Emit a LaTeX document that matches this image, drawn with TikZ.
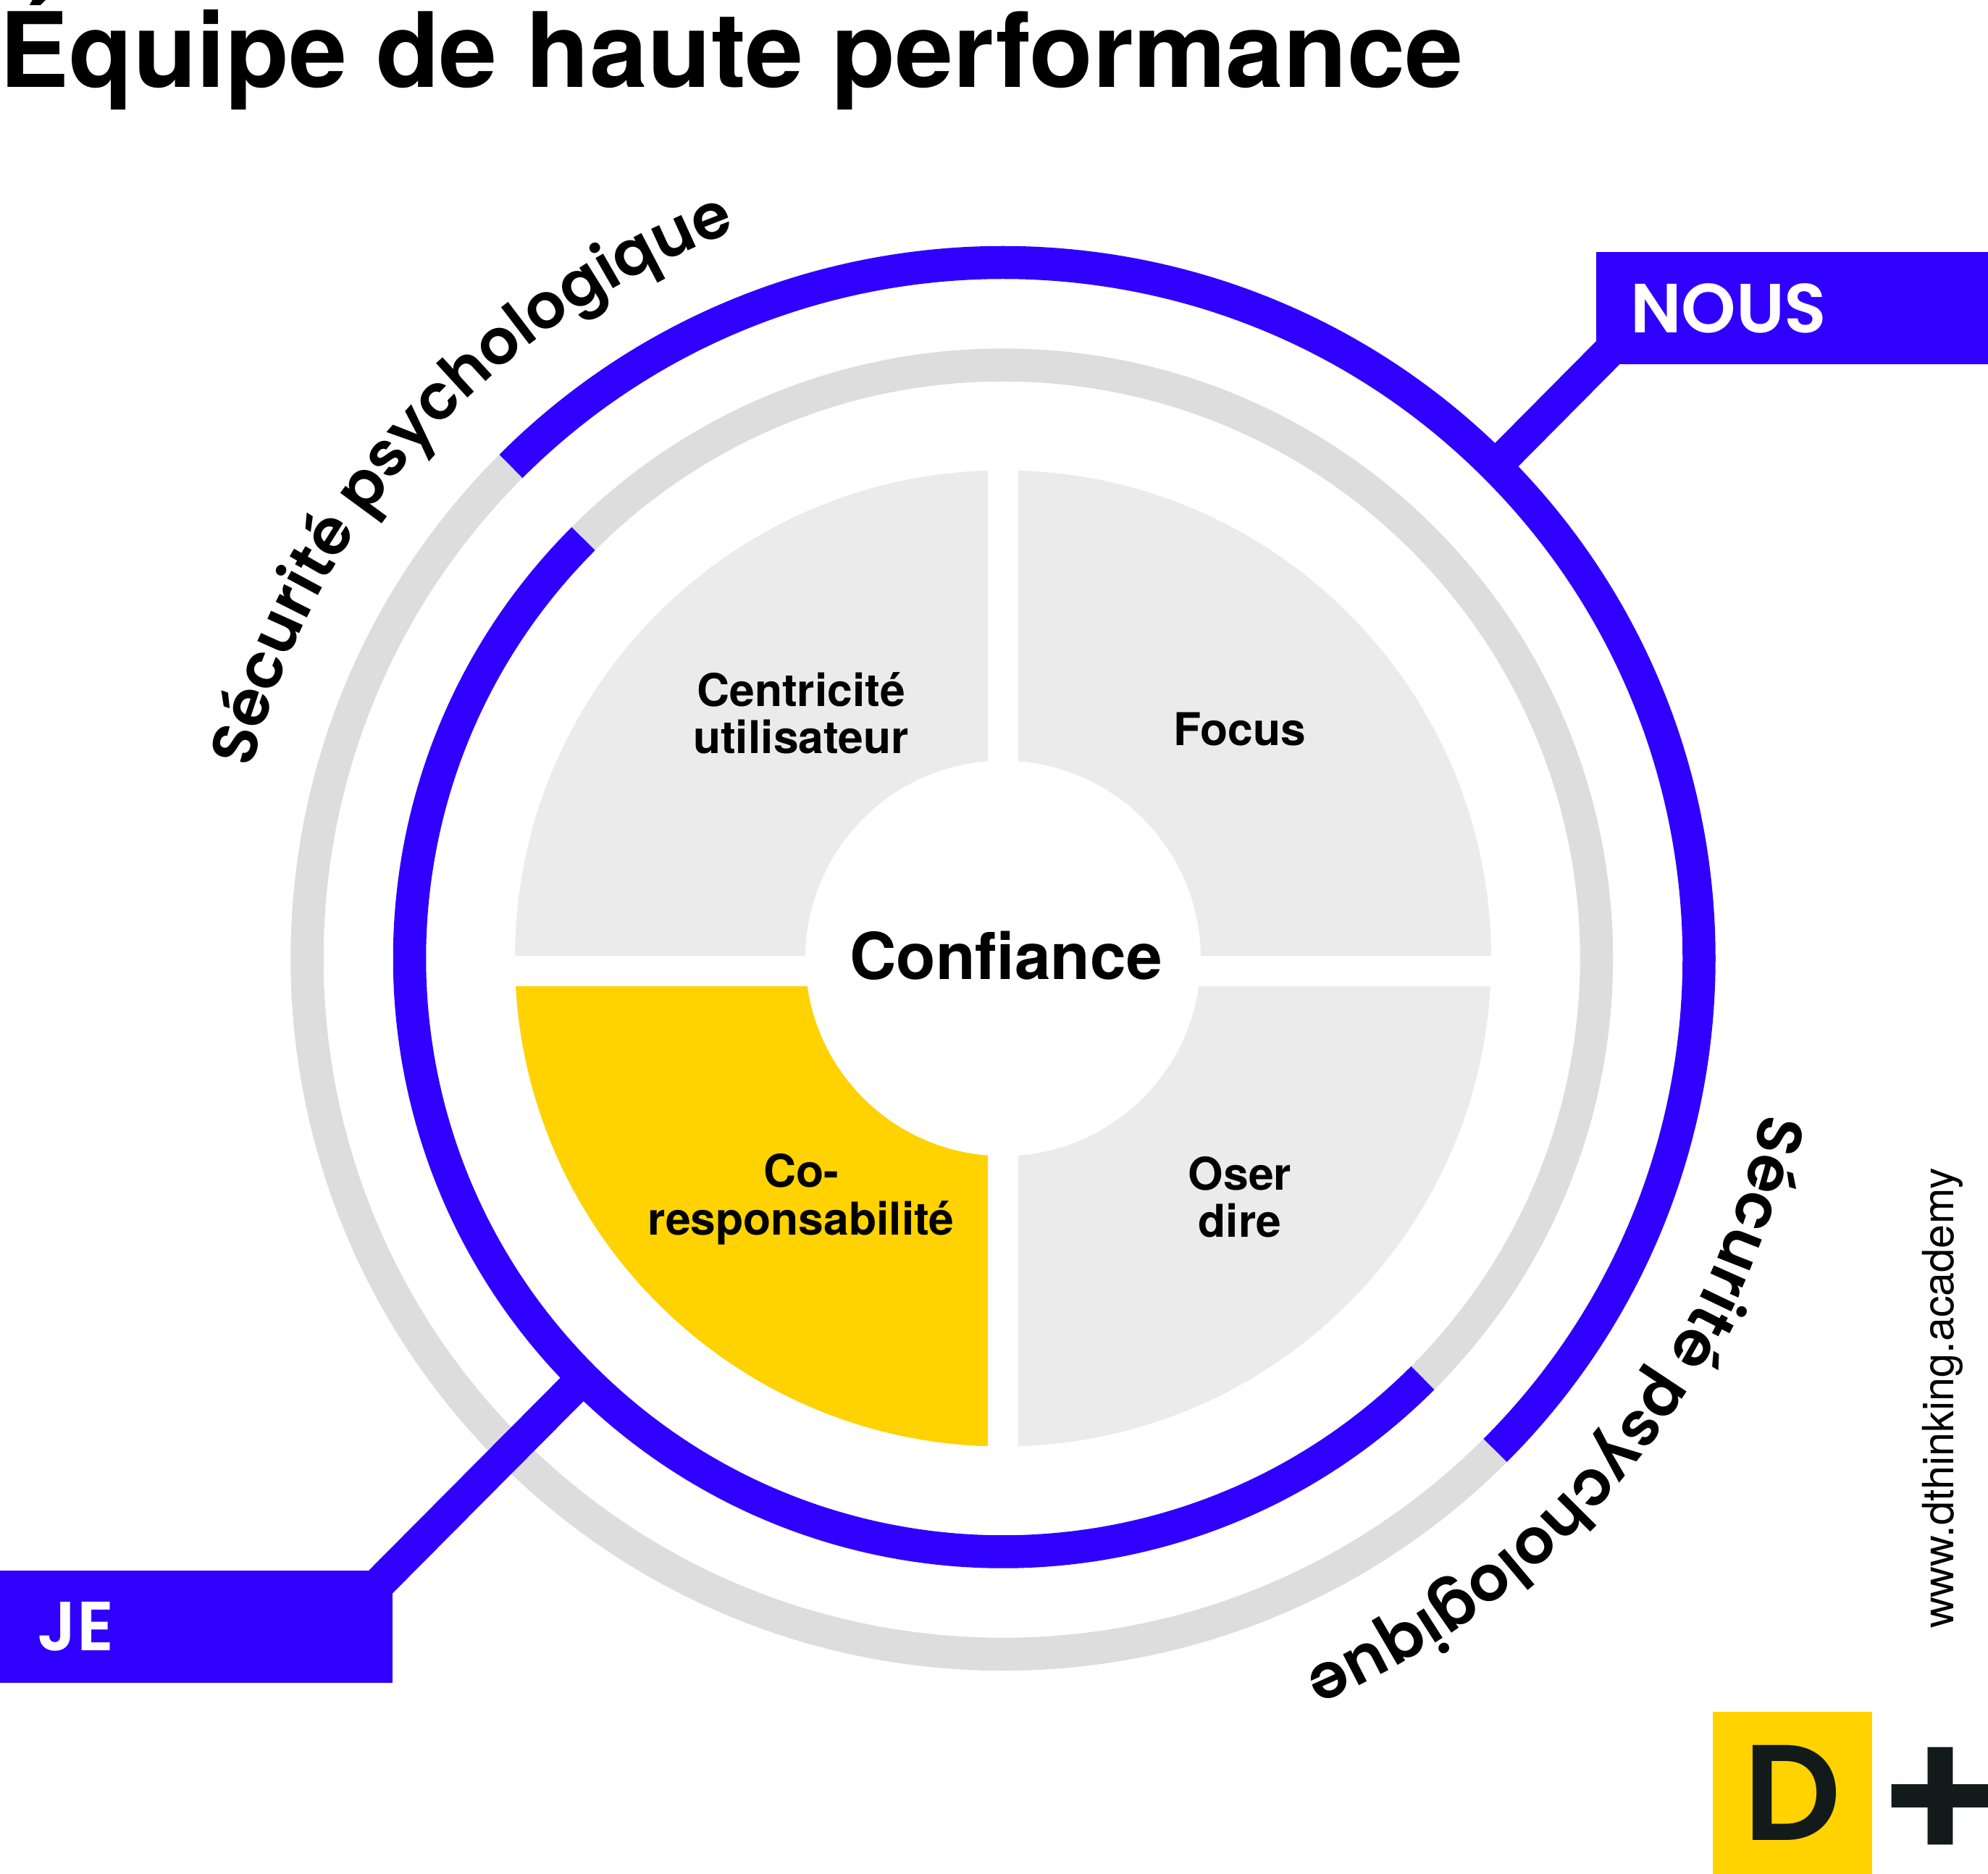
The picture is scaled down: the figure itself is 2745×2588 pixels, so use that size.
\documentclass[tikz,border=0pt]{standalone}
\usepackage{fontspec}
\usetikzlibrary{decorations.text}
\setmainfont{TeX Gyre Heros}
\newfontfamily\gothamfont{Poppins SemiBold}
\definecolor{ringblue}{RGB}{48,0,255}
\definecolor{ringgray}{RGB}{221,221,221}
\definecolor{sectorgray}{RGB}{235,235,235}
\definecolor{logoyellow}{RGB}{255,210,0}
\definecolor{logodark}{RGB}{19,26,26}
\tikzset{
  bluering/.style={draw=ringblue,line width=11.375pt},
  grayring/.style={draw=ringgray,line width=11.375pt},
  tagbox/.style={fill=ringblue,text=white,minimum height=38.9pt,text width=109.75pt,inner xsep=12.75pt,inner ysep=0pt,align=left,font=\gothamfont\fontsize{24}{25}\selectfont},
  sectorlabel/.style={align=center,inner sep=0pt,font=\bfseries\fontsize{15.6}{16.4}\selectfont},
  arclabel/.style={decorate,decoration={text along path,text align=center,text={|\gothamfont\fontsize{21.7}{23}\selectfont|Sécurité psychologique}}}
}
\begin{document}
\begin{tikzpicture}[x=0.25pt,y=0.25pt,yscale=-1,xscale=1]
	\useasboundingbox (0,0) rectangle (2745,2588);
	\coordinate (center) at (1385,1323.5);
	\coordinate (nousfoot) at ([shift={(-45:961)}]center);
	\coordinate (jefoot) at ([shift={(135:819.5)}]center);

	% quarters
	\fill [sectorgray,even odd rule] (center) circle [radius=674] (center) circle [radius=273];
	\begin{scope}
		\clip (0,1323.5) rectangle (1385,2588);
		\fill [logoyellow,even odd rule] (center) circle [radius=674] (center) circle [radius=273];
	\end{scope}
	\fill [white] (1363.5,600) rectangle (1405.5,2050);
	\fill [white] (660,1320) rectangle (2110,1362);

	% rings
	\draw [grayring] ([shift={(45:961)}]center) arc [start angle=45,end angle=225,radius=961];
	\draw [bluering] ([shift={(-135:961)}]center) arc [start angle=-135,end angle=45,radius=961];
	\draw [grayring] ([shift={(-135:819.5)}]center) arc [start angle=-135,end angle=45,radius=819.5];
	\draw [bluering] ([shift={(45:819.5)}]center) arc [start angle=45,end angle=225,radius=819.5];

	% tags
	\node (nous) [tagbox] at (2474.6,425.5) {\hspace*{-1pt}NOUS};
	\node (je) [tagbox] at (271,2246.4) {\raisebox{-1.6pt}{JE}};
	\draw [bluering,shorten <=-6pt] (nous.south west) -- (nousfoot);
	\draw [bluering,shorten <=-6pt] (je.north east) -- (jefoot);

	% texts
	\node (title) [anchor=base west,inner sep=0pt,font=\bfseries\fontsize{35.9}{38}\selectfont] at (-1,121) {Équipe de haute performance};
	\node (confiance) [inner sep=0pt,font=\bfseries\fontsize{22.3}{24}\selectfont] at (1389,1320) {Confiance};
	\node (centricite) [sectorlabel] at (1106,985) {Centricité\\utilisateur};
	\node (focus) [sectorlabel] at (1712,1007) {Focus};
	\node (coresp) [sectorlabel] at (1106,1656) {Co-\\responsabilité};
	\node (oser) [sectorlabel] at (1712,1653) {Oser\\dire};
	\path [arclabel] ([shift={(-165:1070)}]center) arc [start angle=-165,end angle=-111,radius=1070];
	\path [arclabel] ([shift={(12.3:1070)}]center) arc [start angle=12.3,end angle=66.3,radius=1070];
	\node (www) [rotate=90,inner sep=0pt,font=\fontsize{14.85}{16}\selectfont] at (2682,1931) {www.dthinking.academy};

	% logo
	\node (logo) [fill=logoyellow,text=logodark,minimum width=55pt,minimum height=56pt,inner sep=0pt,font=\gothamfont\fontsize{47}{50}\selectfont] at (2475,2476) {\raisebox{-1pt}{D}};
	\node (plus) [text=logodark,inner sep=0pt,font=\gothamfont\fontsize{66}{66}\selectfont] at (2679,2494) {+};
\end{tikzpicture}
\end{document}
